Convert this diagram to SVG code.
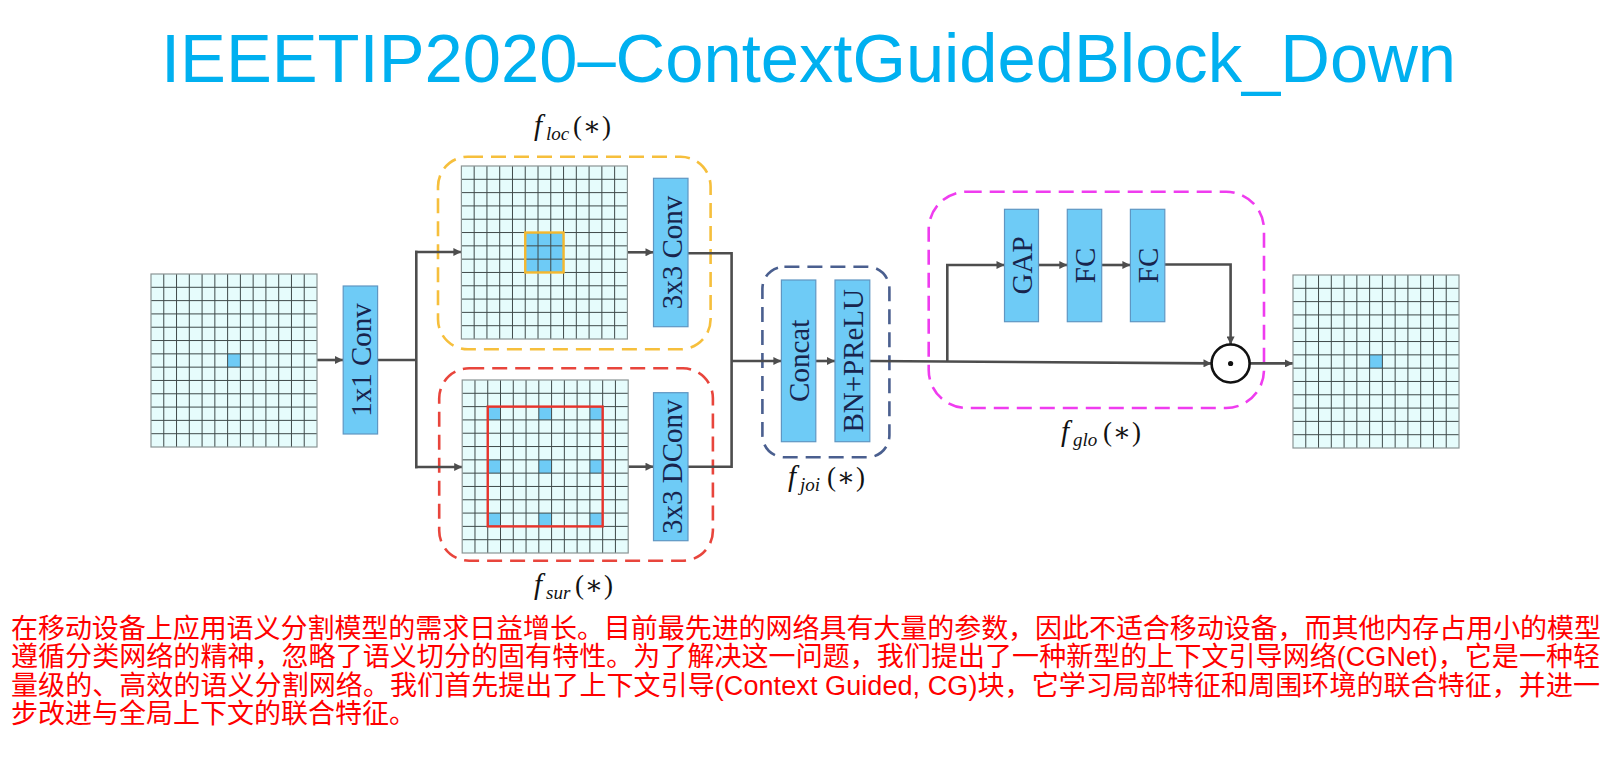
<svg xmlns="http://www.w3.org/2000/svg" xmlns:xlink="http://www.w3.org/1999/xlink" width="1616" height="772" viewBox="0 0 1616 772">
<style>
.title{font-family:"Liberation Sans","Noto Sans",sans-serif;font-size:69px;fill:#00b0f0}
.para{font-family:"Liberation Sans","Noto Sans CJK SC",sans-serif;font-size:27px;fill:#ff0000}
.blk{fill:#6ecbf6;stroke:#5f96c2;stroke-width:1.2}
.blt{font-family:"Liberation Serif","DejaVu Serif",serif;font-size:29px;fill:#18244d;text-anchor:middle}
.gbg{fill:#e6fcfc}
.glines{fill:none;stroke:#3f4a4a;stroke-width:1}
.gborder{fill:none;stroke:#8a9494;stroke-width:1.2}
.hl{fill:#6ecbf6}
.dash{fill:none;stroke-width:2.6;stroke-dasharray:15 8}
.con{fill:none;stroke:#4d4d4d;stroke-width:2.6}
.lab{font-family:"Liberation Serif","DejaVu Serif",serif;fill:#111}
.fi{font-style:italic;font-size:29px}
.sub{font-style:italic;font-size:19px}
.par{font-size:27px}
</style>
<defs>
<marker id="arr" viewBox="0 0 10 10" refX="10" refY="5" markerWidth="9" markerHeight="8" markerUnits="userSpaceOnUse" orient="auto"><path d="M0,0 L10,5 L0,10 z" fill="#4d4d4d"/></marker>
<rect id="gridbg" class="gbg" x="0" y="0" width="166" height="173"/>
<g id="gridlines">
<path class="glines" d="M12.77 0V173M25.54 0V173M38.31 0V173M51.08 0V173M63.85 0V173M76.62 0V173M89.38 0V173M102.15 0V173M114.92 0V173M127.69 0V173M140.46 0V173M153.23 0V173M0 13.31H166M0 26.62H166M0 39.92H166M0 53.23H166M0 66.54H166M0 79.85H166M0 93.15H166M0 106.46H166M0 119.77H166M0 133.08H166M0 146.38H166M0 159.69H166"/>
<rect class="gborder" x="0" y="0" width="166" height="173"/>
</g>
</defs>
<rect width="1616" height="772" fill="#ffffff"/>

<text class="title" x="161" y="82" textLength="1295" lengthAdjust="spacingAndGlyphs">IEEETIP2020–ContextGuidedBlock_Down</text>

<g id="group-loc">
<rect class="dash" x="438" y="156.7" width="272.6" height="192.6" rx="30" stroke="#f6bf3c"/>
<text class="lab"><tspan class="fi" x="534" y="135">f</tspan><tspan class="sub" x="546" y="139.5">loc</tspan><tspan class="par" x="573" y="135" textLength="38">(∗)</tspan></text>
</g>
<g id="group-sur">
<rect class="dash" x="439.2" y="368.3" width="273.7" height="192.4" rx="30" stroke="#e8453c"/>
<text class="lab"><tspan class="fi" x="534" y="594">f</tspan><tspan class="sub" x="546" y="598.5">sur</tspan><tspan class="par" x="575" y="594" textLength="38">(∗)</tspan></text>
</g>
<g id="group-joi">
<rect class="dash" x="762.4" y="266.7" width="127" height="190.6" rx="22" stroke="#4a5f8f"/>
<text class="lab"><tspan class="fi" x="788" y="486">f</tspan><tspan class="sub" x="800" y="491">joi</tspan><tspan class="par" x="827" y="486" textLength="38">(∗)</tspan></text>
</g>
<g id="group-glo">
<rect class="dash" x="928.7" y="191.7" width="335.3" height="216.3" rx="38" stroke="#ef3cef"/>
<text class="lab"><tspan class="fi" x="1061" y="441">f</tspan><tspan class="sub" x="1073" y="445.5">glo</tspan><tspan class="par" x="1103" y="441" textLength="38">(∗)</tspan></text>
</g>

<g id="connectors">
<line class="con" x1="317" y1="360" x2="343" y2="360" marker-end="url(#arr)"/>
<line class="con" x1="377.6" y1="360" x2="416.3" y2="360"/>
<line class="con" x1="416.3" y1="250.7" x2="416.3" y2="468.3" stroke-width="3"/>
<line class="con" x1="415" y1="252" x2="461.4" y2="252" stroke-width="3" marker-end="url(#arr)"/>
<line class="con" x1="415" y1="467" x2="462.2" y2="467" stroke-width="3" marker-end="url(#arr)"/>
<line class="con" x1="627.5" y1="252.3" x2="653.5" y2="252.3" marker-end="url(#arr)"/>
<line class="con" x1="628.3" y1="466.7" x2="653.5" y2="466.7" marker-end="url(#arr)"/>
<polyline class="con" points="688,253.3 731.6,253.3 731.6,466.7 688,466.7"/>
<line class="con" x1="731.6" y1="361" x2="781.4" y2="361" marker-end="url(#arr)"/>
<line class="con" x1="815.8" y1="361" x2="835" y2="361" marker-end="url(#arr)"/>
<line class="con" x1="869.8" y1="361" x2="1211.5" y2="363.4" marker-end="url(#arr)"/>
<polyline class="con" points="947.3,362 947.3,265 1004.5,265" marker-end="url(#arr)"/>
<line class="con" x1="1038.5" y1="265" x2="1067.3" y2="265" marker-end="url(#arr)"/>
<line class="con" x1="1101.7" y1="265" x2="1130.4" y2="265" marker-end="url(#arr)"/>
<polyline class="con" points="1164.8,264.5 1230.6,264.5 1230.6,344.5" marker-end="url(#arr)"/>
<line class="con" x1="1250" y1="363.4" x2="1293" y2="363.4" marker-end="url(#arr)"/>
</g>

<g id="input-grid">
<use xlink:href="#gridbg" x="151" y="274"/>
<rect class="hl" x="227.62" y="353.85" width="12.77" height="13.31"/>
<use xlink:href="#gridlines" x="151" y="274"/>
</g>

<g id="loc-grid">
<use xlink:href="#gridbg" x="461.4" y="166"/>
<rect class="hl" x="525.25" y="232.54" width="38.31" height="39.92"/>
<use xlink:href="#gridlines" x="461.4" y="166"/>
<rect x="525.25" y="232.54" width="38.31" height="39.92" fill="none" stroke="#f5b82e" stroke-width="2.4"/>
</g>

<g id="sur-grid">
<use xlink:href="#gridbg" x="462.2" y="380"/>
<g class="hl">
<rect x="487.74" y="406.62" width="12.77" height="13.31"/>
<rect x="538.82" y="406.62" width="12.77" height="13.31"/>
<rect x="589.9" y="406.62" width="12.77" height="13.31"/>
<rect x="487.74" y="459.85" width="12.77" height="13.31"/>
<rect x="538.82" y="459.85" width="12.77" height="13.31"/>
<rect x="589.9" y="459.85" width="12.77" height="13.31"/>
<rect x="487.74" y="513.08" width="12.77" height="13.31"/>
<rect x="538.82" y="513.08" width="12.77" height="13.31"/>
<rect x="589.9" y="513.08" width="12.77" height="13.31"/>
</g>
<use xlink:href="#gridlines" x="462.2" y="380"/>
<rect x="487.74" y="406.62" width="114.93" height="119.77" fill="none" stroke="#e8332b" stroke-width="2.4"/>
</g>

<g id="output-grid">
<use xlink:href="#gridbg" x="1293" y="275"/>
<rect class="hl" x="1369.62" y="354.85" width="12.77" height="13.31"/>
<use xlink:href="#gridlines" x="1293" y="275"/>
</g>

<g id="conv1x1">
<rect class="blk" x="343.2" y="286" width="34.4" height="148"/>
<text class="blt" transform="translate(371,360) rotate(-90)">1x1 Conv</text>
</g>
<g id="conv3x3">
<rect class="blk" x="653.5" y="178.3" width="34.5" height="148.4"/>
<text class="blt" transform="translate(681.5,252.5) rotate(-90)">3x3 Conv</text>
</g>
<g id="dconv3x3">
<rect class="blk" x="653.5" y="392.7" width="34.5" height="148"/>
<text class="blt" transform="translate(681.5,466.7) rotate(-90)">3x3 DConv</text>
</g>
<g id="concat">
<rect class="blk" x="781.4" y="280" width="34.4" height="161.7"/>
<text class="blt" font-size="28.5" transform="translate(809,360.8) rotate(-90)">Concat</text>
</g>
<g id="bnprelu">
<rect class="blk" x="835" y="280" width="34.8" height="161.7"/>
<text class="blt" font-size="28.5" transform="translate(862.8,360.8) rotate(-90)">BN+PReLU</text>
</g>
<g id="gap">
<rect class="blk" x="1004.5" y="209.3" width="34" height="112.4"/>
<text class="blt" font-size="28.5" transform="translate(1031.5,265.5) rotate(-90)">GAP</text>
</g>
<g id="fc1">
<rect class="blk" x="1067.3" y="209.3" width="34.4" height="112.4"/>
<text class="blt" font-size="28.5" transform="translate(1094.5,265.5) rotate(-90)">FC</text>
</g>
<g id="fc2">
<rect class="blk" x="1130.4" y="209.3" width="34.4" height="112.4"/>
<text class="blt" font-size="28.5" transform="translate(1157.6,265.5) rotate(-90)">FC</text>
</g>
<g id="mult">
<circle cx="1230.6" cy="363.5" r="19" fill="#ffffff" stroke="#111" stroke-width="2.6"/>
<circle cx="1230.6" cy="363.5" r="2.6" fill="#111"/>
</g>

<g id="description">
<text class="para" x="11" y="637.5" textLength="1590" lengthAdjust="spacing">在移动设备上应用语义分割模型的需求日益增长。目前最先进的网络具有大量的参数，因此不适合移动设备，而其他内存占用小的模型</text>
<text class="para" x="11" y="666" textLength="1589" lengthAdjust="spacing">遵循分类网络的精神，忽略了语义切分的固有特性。为了解决这一问题，我们提出了一种新型的上下文引导网络(CGNet)，它是一种轻</text>
<text class="para" x="11" y="694.5" textLength="1589" lengthAdjust="spacing">量级的、高效的语义分割网络。我们首先提出了上下文引导(Context Guided, CG)块，它学习局部特征和周围环境的联合特征，并进一</text>
<text class="para" x="11" y="723">步改进与全局上下文的联合特征。</text>
</g>
</svg>
